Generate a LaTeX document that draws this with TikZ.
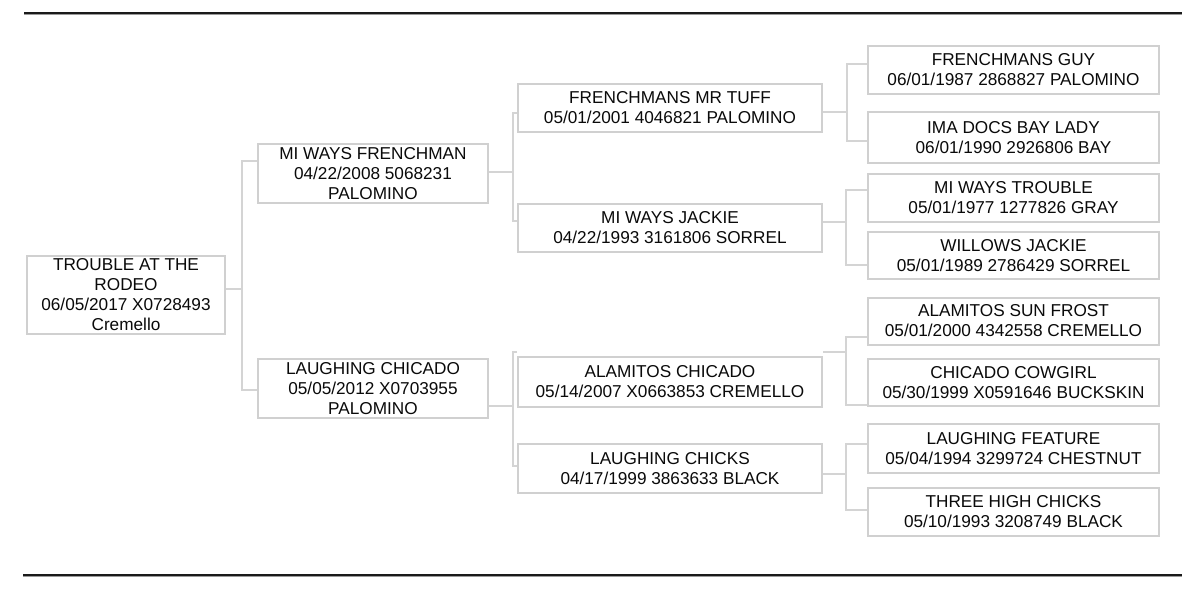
\documentclass[tikz,border=0pt]{standalone}
\usepackage{fontspec}
\setmainfont{Liberation Sans}
\definecolor{boxline}{HTML}{D0D0D0}
\definecolor{connline}{HTML}{D4D4D4}
\definecolor{txt}{HTML}{0A0A0A}
\definecolor{rule}{HTML}{1A1A1A}
\definecolor{ruleshade}{HTML}{9A9A9A}
\begin{document}
\begin{tikzpicture}[x=0.5pt,y=-0.5pt,
  horse/.style={draw=boxline, line width=1pt, fill=white, rectangle, inner sep=0pt,
    align=center, text=txt, font=\fontsize{8.6}{10}\selectfont},
  conn/.style={draw=connline, line width=0.6pt},
  rulestyle/.style={draw=rule, line width=1.2pt},
  shadestyle/.style={draw=ruleshade, line width=0.5pt}]
\useasboundingbox[fill=white] (0,0) rectangle (1200,589);
% rules
\coordinate (tl) at (24,13); \coordinate (tr) at (1182,13);
\coordinate (bl) at (23,575); \coordinate (br) at (1182,575);
\draw[shadestyle] ([yshift=-0.7pt]tl) -- ([yshift=-0.7pt]tr);
\draw[shadestyle] ([yshift=-0.7pt]bl) -- ([yshift=-0.7pt]br);
\draw[rulestyle] (tl) -- (tr);
\draw[rulestyle] (bl) -- (br);
% generation 1
\node[horse, minimum width=99pt, minimum height=39pt] (g1) at (126,295)
  {TROUBLE AT THE\\RODEO\\06/05/2017 X0728493\\Cremello};
% generation 2
\node[horse, minimum width=115pt, minimum height=29.5pt] (a) at (373,173.5)
  {MI WAYS FRENCHMAN\\04/22/2008 5068231\\PALOMINO};
\node[horse, minimum width=115pt, minimum height=29.5pt] (b) at (373,388.5)
  {LAUGHING CHICADO\\05/05/2012 X0703955\\PALOMINO};
% generation 3
\node[horse, minimum width=152pt, minimum height=24pt] (c1) at (670,108)
  {FRENCHMANS MR TUFF\\05/01/2001 4046821 PALOMINO};
\node[horse, minimum width=152pt, minimum height=24pt] (c2) at (670,228)
  {MI WAYS JACKIE\\04/22/1993 3161806 SORREL};
\node[horse, minimum width=152pt, minimum height=25pt] (c3) at (670,382)
  {ALAMITOS CHICADO\\05/14/2007 X0663853 CREMELLO};
\node[horse, minimum width=152pt, minimum height=24.5pt] (c4) at (670,468.5)
  {LAUGHING CHICKS\\04/17/1999 3863633 BLACK};
% generation 4
\node[horse, minimum width=145.5pt, minimum height=24pt] (d1) at (1013.5,70)
  {FRENCHMANS GUY\\06/01/1987 2868827 PALOMINO};
\node[horse, minimum width=145.5pt, minimum height=25.5pt] (d2) at (1013.5,137.5)
  {IMA DOCS BAY LADY\\06/01/1990 2926806 BAY};
\node[horse, minimum width=145.5pt, minimum height=24pt] (d3) at (1013.5,198)
  {MI WAYS TROUBLE\\05/01/1977 1277826 GRAY};
\node[horse, minimum width=145.5pt, minimum height=23.5pt] (d4) at (1013.5,255.5)
  {WILLOWS JACKIE\\05/01/1989 2786429 SORREL};
\node[horse, minimum width=145.5pt, minimum height=23.5pt] (d5) at (1013.5,321)
  {ALAMITOS SUN FROST\\05/01/2000 4342558 CREMELLO};
\node[horse, minimum width=145.5pt, minimum height=23.5pt] (d6) at (1013.5,382.5)
  {CHICADO COWGIRL\\05/30/1999 X0591646 BUCKSKIN};
\node[horse, minimum width=145.5pt, minimum height=24.5pt] (d7) at (1013.5,448.5)
  {LAUGHING FEATURE\\05/04/1994 3299724 CHESTNUT};
\node[horse, minimum width=145.5pt, minimum height=24pt] (d8) at (1013.5,512)
  {THREE HIGH CHICKS\\05/10/1993 3208749 BLACK};
% junctions
\coordinate (j0) at (242,289); \coordinate (s0a) at (242,161); \coordinate (s0b) at (242,390);
\coordinate (ja) at (513,172); \coordinate (sa1) at (513,113); \coordinate (sa2) at (513,221);
\coordinate (jb) at (513,406); \coordinate (sb1) at (513,352); \coordinate (sb2) at (513,466);
\coordinate (jc1) at (847,112); \coordinate (sc11) at (847,64); \coordinate (sc12) at (847,141);
\coordinate (jc2) at (846,222); \coordinate (sc21) at (846,190); \coordinate (sc22) at (846,265);
\coordinate (jc3) at (846,352); \coordinate (sc31) at (846,337); \coordinate (sc32) at (846,405);
\coordinate (jc4) at (846,474); \coordinate (sc41) at (846,444); \coordinate (sc42) at (846,510);
% connectors
\draw[conn] (g1.east |- j0) -- (j0);
\draw[conn] (a.west |- s0a) -- (s0a) -- (s0b) -- (b.west |- s0b);
\draw[conn] (a.east |- ja) -- (ja);
\draw[conn] (c1.west |- sa1) -- (sa1) -- (sa2) -- (c2.west |- sa2);
\draw[conn] (b.east |- jb) -- (jb);
\draw[conn] (c3.west |- sb1) -- (sb1) -- (sb2) -- (c4.west |- sb2);
\draw[conn] (c1.east |- jc1) -- (jc1);
\draw[conn] (d1.west |- sc11) -- (sc11) -- (sc12) -- (d2.west |- sc12);
\draw[conn] (c2.east |- jc2) -- (jc2);
\draw[conn] (d3.west |- sc21) -- (sc21) -- (sc22) -- (d4.west |- sc22);
\draw[conn] (c3.east |- jc3) -- (jc3);
\draw[conn] (d5.west |- sc31) -- (sc31) -- (sc32) -- (d6.west |- sc32);
\draw[conn] (c4.east |- jc4) -- (jc4);
\draw[conn] (d7.west |- sc41) -- (sc41) -- (sc42) -- (d8.west |- sc42);
\end{tikzpicture}
\end{document}
